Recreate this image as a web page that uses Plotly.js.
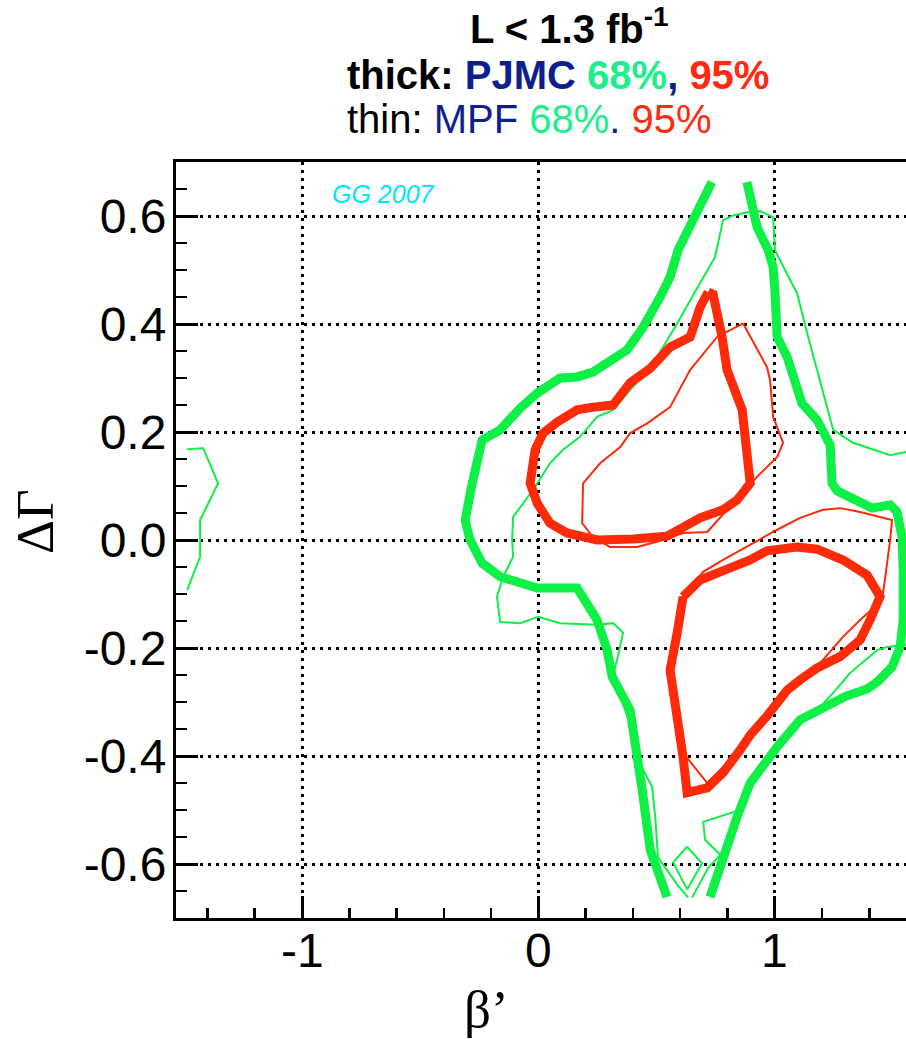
<!DOCTYPE html>
<html>
<head>
<meta charset="utf-8">
<script src="https://cdn.plot.ly/plotly-3.0.1.min.js"></script>
<style>html,body{margin:0;padding:0;background:#fff;overflow:hidden}</style>
</head>
<body>
<div id="chart" style="width:906px;height:1039px"></div>
<script>
// ---- data (beta', DeltaGamma) ----
const thickGreenLeftX = [0.734,0.684,0.633,0.591,0.557,0.515,0.443,0.375,0.291,0.231,0.164,0.092,-0.005,-0.077,-0.162,-0.238,-0.280,-0.310,-0.289,-0.238,-0.162,-0.005,0.164,0.248,0.291,0.312,0.388,0.409,0.439,0.473,0.515,0.544];
const thickGreenLeftY = [0.663,0.623,0.574,0.537,0.487,0.450,0.394,0.352,0.327,0.311,0.302,0.300,0.272,0.244,0.204,0.185,0.105,0.037,0.000,-0.043,-0.068,-0.089,-0.089,-0.148,-0.204,-0.253,-0.315,-0.389,-0.463,-0.574,-0.629,-0.661];
const thickGreenRightX = [0.882,0.903,0.925,0.972,0.993,1.001,1.010,1.052,1.077,1.115,1.179,1.234,1.242,1.264,1.412,1.488,1.517,1.538,1.543,1.543,1.530,1.496,1.433,1.390,1.297,1.192,1.107,1.010,0.896,0.841,0.781,0.726];
const thickGreenRightY = [0.663,0.611,0.579,0.537,0.505,0.457,0.376,0.339,0.302,0.253,0.222,0.176,0.105,0.091,0.059,0.065,0.052,0.006,-0.056,-0.148,-0.198,-0.235,-0.263,-0.276,-0.290,-0.313,-0.333,-0.383,-0.450,-0.512,-0.586,-0.661];

const thinGreenMainX = [0.633,0.587,0.544,0.506,0.494,0.481,0.439,0.409,0.367,0.316,0.333,0.358,0.316,0.248,0.092,-0.001,-0.077,-0.162,-0.175,-0.149,-0.107,-0.111,-0.107,-0.022,0.049,0.104,0.176,0.248,0.316,0.388,0.473,0.536,0.587,0.650,0.747,0.781,0.824,0.883,0.938,0.993,1.001,1.022,1.094,1.137,1.192,1.247,1.331,1.416,1.488,1.555,1.636,1.636,1.555,1.475,1.433,1.319,1.247,1.179,1.107,1.035,0.951,0.896,0.853,0.697,0.705,0.769,0.718,0.684,0.650];
const thinGreenMainY = [-0.662,-0.638,-0.611,-0.588,-0.512,-0.457,-0.422,-0.370,-0.315,-0.250,-0.222,-0.172,-0.154,-0.157,-0.154,-0.142,-0.154,-0.152,-0.105,-0.068,-0.031,0.000,0.043,0.093,0.142,0.167,0.191,0.228,0.241,0.278,0.318,0.364,0.401,0.450,0.524,0.592,0.601,0.607,0.609,0.598,0.537,0.518,0.457,0.383,0.291,0.204,0.180,0.167,0.157,0.163,0.167,-0.194,-0.194,-0.198,-0.204,-0.246,-0.283,-0.315,-0.333,-0.370,-0.413,-0.450,-0.500,-0.522,-0.555,-0.583,-0.607,-0.635,-0.662];
const thinGreenDiamondX = [0.629,0.692,0.629,0.570,0.629];
const thinGreenDiamondY = [-0.568,-0.599,-0.647,-0.597,-0.568];
const thinGreenEdgeX = [-1.486,-1.418,-1.355,-1.431,-1.431,-1.486];
const thinGreenEdgeY = [0.168,0.170,0.105,0.037,-0.031,-0.093];

const thickRedUpperX = [0.718,0.739,0.777,0.798,0.862,0.883,0.896,0.841,0.781,0.684,0.612,0.544,0.401,0.248,0.121,0.049,-0.005,-0.035,-0.014,0.020,0.079,0.164,0.231,0.316,0.388,0.473,0.557,0.642,0.684,0.718];
const thickRedUpperY = [0.459,0.455,0.376,0.315,0.241,0.154,0.105,0.074,0.056,0.041,0.024,0.007,0.002,0.000,0.013,0.031,0.068,0.105,0.167,0.198,0.218,0.241,0.246,0.250,0.291,0.318,0.357,0.376,0.431,0.459];
const thickRedLowerX = [0.612,0.684,0.798,0.896,0.967,1.094,1.179,1.289,1.390,1.445,1.403,1.361,1.276,1.179,1.107,1.052,0.967,0.896,0.853,0.781,0.714,0.629,0.612,0.587,0.557,0.587,0.612];
const thickRedLowerY = [-0.105,-0.074,-0.054,-0.037,-0.020,-0.013,-0.017,-0.037,-0.065,-0.105,-0.148,-0.185,-0.216,-0.237,-0.259,-0.278,-0.326,-0.361,-0.389,-0.431,-0.459,-0.468,-0.402,-0.328,-0.241,-0.172,-0.105];

const thinRedUpperX = [0.866,0.967,0.980,0.993,1.035,1.010,0.925,0.824,0.769,0.714,0.612,0.527,0.418,0.303,0.231,0.185,0.189,0.261,0.346,0.388,0.460,0.557,0.642,0.756,0.866];
const thinRedUpperY = [0.401,0.320,0.296,0.228,0.180,0.154,0.117,0.068,0.043,0.015,0.013,0.000,-0.013,-0.013,0.006,0.031,0.105,0.142,0.172,0.198,0.216,0.246,0.315,0.376,0.401];
const thinRedLowerX = [0.599,0.697,0.781,0.896,1.010,1.107,1.204,1.276,1.361,1.496,1.488,1.471,1.454,1.361,1.289,1.204,1.107,0.980,0.866,0.798,0.714,0.612,0.587,0.544,0.587,0.599];
const thinRedLowerY = [-0.111,-0.059,-0.037,-0.009,0.019,0.041,0.056,0.059,0.052,0.037,0.000,-0.056,-0.111,-0.148,-0.179,-0.222,-0.264,-0.315,-0.376,-0.413,-0.450,-0.394,-0.328,-0.246,-0.172,-0.111];

const xTickVals = [-1, 0, 1];
const xTickText = ['-1', '0', '1'];
const yTickVals = [-0.6, -0.4, -0.2, 0, 0.2, 0.4, 0.6];
const yTickText = ['-0.6', '-0.4', '-0.2', '0.0', '0.2', '0.4', '0.6'];

// ---- styling ----
const GREEN = '#0ef046';
const RED = '#ff2a08';
const TXT_GREEN = '#1cef8c';
const TXT_RED = '#ff2a10';
const NAVY = '#0d1e8e';
const THICK = 9, THIN = 2;

function line(x, y, color, width) {
  return {x: x, y: y, type: 'scatter', mode: 'lines', hoverinfo: 'skip',
          line: {color: color, width: width, shape: 'linear'}};
}
const traces = [
  line(thinGreenMainX, thinGreenMainY, GREEN, THIN),
  line(thinGreenDiamondX, thinGreenDiamondY, GREEN, THIN),
  line(thinGreenEdgeX, thinGreenEdgeY, GREEN, THIN),
  line(thickGreenLeftX, thickGreenLeftY, GREEN, THICK),
  line(thickGreenRightX, thickGreenRightY, GREEN, THICK),
  line(thinRedUpperX, thinRedUpperY, RED, THIN),
  line(thinRedLowerX, thinRedLowerY, RED, THIN),
  line(thickRedUpperX, thickRedUpperY, RED, THICK),
  line(thickRedLowerX, thickRedLowerY, RED, THICK)
];

const ML = 176, MT = 162, MB = 121, W = 906, H = 1039;
const PW = W - ML, PH = H - MT - MB;
const px = v => (v - ML) / PW;
const py = v => (MT + PH - v) / PH;
const SANS = 'Liberation Sans, Arial, Helvetica, sans-serif';
const SERIF = 'Liberation Serif, Times New Roman, serif';

// x tick labels placed as annotations on the x scale (to sit closer to the axis)
const xLabelAnns = xTickVals.map((v, i) => ({
  xref: 'x', yref: 'paper', x: v, y: py(950), xanchor: 'center', yanchor: 'middle',
  showarrow: false, text: xTickText[i], font: {family: SANS, size: 48, color: '#000'}
}));

const layout = {
  width: W, height: H,
  margin: {l: ML, r: 0, t: MT, b: MB, pad: 0},
  paper_bgcolor: '#fff', plot_bgcolor: '#fff',
  showlegend: false,
  xaxis: {
    range: [-1.533, 1.555],
    tickmode: 'array', tickvals: xTickVals, ticktext: xTickText, showticklabels: false,
    ticks: 'inside', ticklen: 22, tickwidth: 3, tickcolor: '#000',
    showline: true, linecolor: '#000', linewidth: 3, mirror: true,
    showgrid: true, gridcolor: '#000', gridwidth: 3, griddash: '3px,5px',
    zeroline: false,
    minor: {tickmode: 'linear', tick0: 0, dtick: 0.2, ticks: 'inside', ticklen: 10, tickwidth: 2.5, tickcolor: '#000', showgrid: false}
  },
  yaxis: {
    range: [-0.7, 0.7],
    tickmode: 'array', tickvals: yTickVals, ticktext: yTickText,
    ticks: 'inside', ticklen: 22, tickwidth: 3, tickcolor: '#000',
    showline: true, linecolor: '#000', linewidth: 3, mirror: false,
    showgrid: true, gridcolor: '#000', gridwidth: 3, griddash: '3px,5px',
    zeroline: false, ticklabelstandoff: -3,
    tickfont: {family: SANS, size: 48, color: '#000'},
    minor: {tickmode: 'linear', tick0: 0, dtick: 0.05, ticks: 'inside', ticklen: 11, tickwidth: 2.5, tickcolor: '#000', showgrid: false}
  },
  annotations: xLabelAnns.concat([
    {xref: 'paper', yref: 'paper', x: px(468), y: py(26), xanchor: 'left', yanchor: 'middle', showarrow: false,
     text: '<b>L &lt; 1.3 fb<sup>-1</sup></b>', font: {family: SANS, size: 40, color: '#000'}},
    {xref: 'paper', yref: 'paper', x: px(345), y: py(75), xanchor: 'left', yanchor: 'middle', showarrow: false,
     text: '<b>thick: <span style="color:' + NAVY + '">PJMC</span> <span style="color:' + TXT_GREEN + '">68%</span><span style="color:' + NAVY + '">,</span> <span style="color:' + TXT_RED + '">95%</span></b>',
     font: {family: SANS, size: 40, color: '#000'}},
    {xref: 'paper', yref: 'paper', x: px(345), y: py(119), xanchor: 'left', yanchor: 'middle', showarrow: false,
     text: 'thin: <span style="color:' + NAVY + '">MPF</span> <span style="color:' + TXT_GREEN + '">68%</span><span style="color:' + NAVY + '">.</span> <span style="color:' + TXT_RED + '">95%</span>',
     font: {family: SANS, size: 40, color: '#000'}},
    {xref: 'paper', yref: 'paper', x: px(330), y: py(194), xanchor: 'left', yanchor: 'middle', showarrow: false,
     text: '<i>GG 2007</i>', font: {family: SANS, size: 25, color: '#00e5ff'}},
    {xref: 'paper', yref: 'paper', x: px(35), y: py(522), xanchor: 'center', yanchor: 'middle', showarrow: false,
     textangle: -90, text: 'ΔΓ', font: {family: SERIF, size: 53, color: '#000'}},
    {xref: 'paper', yref: 'paper', x: px(486), y: py(1009), xanchor: 'center', yanchor: 'middle', showarrow: false,
     text: 'β’', font: {family: SERIF, size: 53, color: '#000'}}
  ])
};

Plotly.newPlot('chart', traces, layout, {displayModeBar: false, staticPlot: true});
</script>
</body>
</html>
